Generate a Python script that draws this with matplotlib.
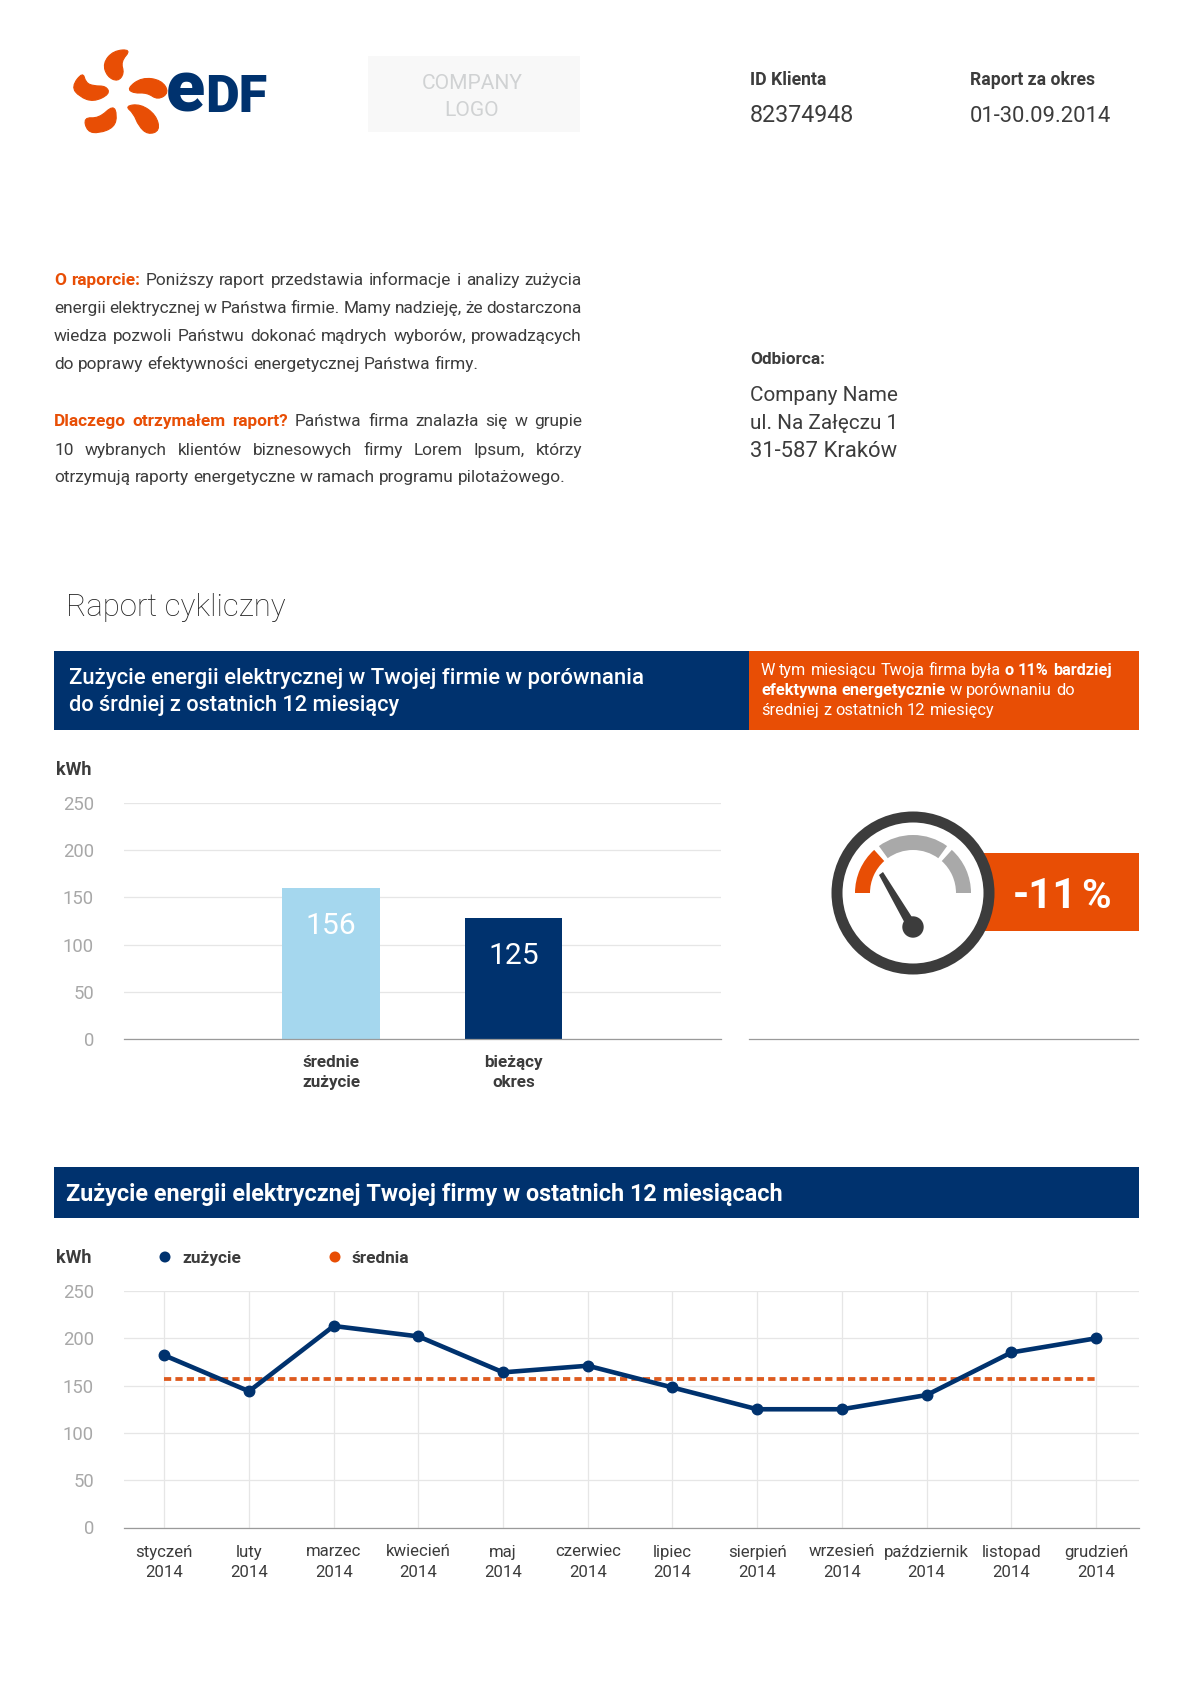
import matplotlib
matplotlib.use("Agg")
import matplotlib.pyplot as plt
from matplotlib.patches import Rectangle, PathPatch, Circle, Wedge, Polygon
from matplotlib.path import Path

W, H = 1200, 1695
FONT = "Roboto"
plt.rcParams["font.family"] = [FONT, "DejaVu Sans"]

NAVY = "#00326e"
ORANGE = "#e84e05"
LIGHT = "#a5d7ee"
DARK = "#3c3c3c"
GRAYTICK = "#a8a8a8"
GRID = "#e6e6e6"
AXLINE = "#9a9a9a"

# ---- data
bar_categories = ["średnie\nzużycie", "bieżący\nokres"]
bar_labels = ["156", "125"]
bar_heights = [160, 128]
bar_colors = [LIGHT, NAVY]
y_ticks = [0, 50, 100, 150, 200, 250]
months = ["styczeń", "luty", "marzec", "kwiecień", "maj", "czerwiec", "lipiec",
          "sierpień", "wrzesień", "październik", "listopad", "grudzień"]
year = "2014"
usage = [182, 144, 213, 202, 164, 171, 148, 125, 125, 140, 185, 200]
average = [156.5] * 12

fig = plt.figure(figsize=(W / 100, H / 100), dpi=100, facecolor="white")
ov = fig.add_axes([0, 0, 1, 1], zorder=0)
ov.set_xlim(0, W); ov.set_ylim(H, 0); ov.axis("off")
rend = fig.canvas.get_renderer()

def px(s):
    return s * 0.72

def T(x, y, s, size, color=DARK, weight="normal", ha="left", ax=None, **kw):
    return (ax or ov).text(x, y, s, fontsize=px(size), color=color, weight=weight,
                           ha=ha, va="baseline", **kw)

def width(s, size, weight):
    t = ov.text(0, 0, s, fontsize=px(size), weight=weight)
    w = t.get_window_extent(rend).width
    t.remove()
    return w

def runs(x, y, items, size, right=None, ax=None):
    """items: (text, color, weight) word runs; right: justify to this x."""
    words = []
    for txt, col, wt in items:
        for w in txt.split():
            words.append((w, col, wt))
    ws = [width(w, size, wt) for w, _, wt in words]
    space = width("a a", size, "normal") - width("aa", size, "normal")
    if right is not None and len(words) > 1:
        space = (right - x - sum(ws)) / (len(words) - 1)
    cx = x
    for (w, col, wt), wd in zip(words, ws):
        T(cx, y, w, size, col, wt, ax=ax)
        cx += wd + space

# ---- logo
def blob(pts, color):
    P = [(40 + a / 2.8, 30 + b / 3) for a, b in pts]
    n = len(P)
    mid = lambda p, q: ((p[0] + q[0]) / 2, (p[1] + q[1]) / 2)
    verts = [mid(P[-1], P[0])]
    codes = [Path.MOVETO]
    for i in range(n):
        verts += [P[i], mid(P[i], P[(i + 1) % n])]
        codes += [Path.CURVE3, Path.CURVE3]
    ov.add_patch(PathPatch(Path(verts, codes), fc=ORANGE, ec=ORANGE, lw=0.8))

blob([(256, 58), (205, 62), (176, 100), (188, 140), (218, 155), (236, 130), (226, 95)], ORANGE)
blob([(120, 125), (88, 170), (110, 200), (150, 216), (196, 192), (185, 168), (150, 168), (128, 158)], ORANGE)
blob([(244, 175), (285, 142), (340, 150), (362, 188), (330, 210), (300, 188), (262, 190)], ORANGE)
blob([(122, 262), (165, 265), (205, 225), (216, 255), (208, 292), (165, 310), (132, 305)], ORANGE)
blob([(238, 228), (282, 222), (325, 255), (336, 302), (302, 314), (276, 288), (262, 250)], ORANGE)
T(166, 112, "e", 72, NAVY, 900)
T(205, 112, "DF", 52, NAVY, 900)

# ---- header
ov.add_patch(Rectangle((368, 56), 212, 76, fc="#f8f8f8", ec="none"))
T(472, 89, "COMPANY", 21, "#d0d2d3", ha="center")
T(472, 116, "LOGO", 21, "#d0d2d3", ha="center")
T(750, 85, "ID Klienta", 17.6, DARK, "bold")
T(750, 122, "82374948", 23.2, DARK)
T(970, 85, "Raport za okres", 17.6, DARK, "bold")
T(970, 122, "01-30.09.2014", 22, DARK)

# ---- body text
L, R = 54, 582
BS = 17.3
runs(L, 285, [("O raporcie:", ORANGE, "bold"), ("Poniższy raport przedstawia informacje i analizy zużycia", DARK, "normal")], BS, R)
runs(L, 313, [("energii elektrycznej w Państwa firmie. Mamy nadzieję, że dostarczona", DARK, "normal")], BS, R)
runs(L, 341, [("wiedza pozwoli Państwu dokonać mądrych wyborów, prowadzących", DARK, "normal")], BS, R)
runs(L, 369, [("do poprawy efektywności energetycznej Państwa firmy.", DARK, "normal")], BS)
runs(L, 426, [("Dlaczego otrzymałem raport?", ORANGE, "bold"), ("Państwa firma znalazła się w grupie", DARK, "normal")], BS, R)
runs(L, 455, [("10 wybranych klientów biznesowych firmy Lorem Ipsum, którzy", DARK, "normal")], BS, R)
runs(L, 482, [("otrzymują raporty energetyczne w ramach programu pilotażowego.", DARK, "normal")], BS)

T(750, 364, "Odbiorca:", 17.3, DARK, "bold")
T(750, 401, "Company Name", 20.8, DARK)
T(750, 429, "ul. Na Załęczu 1", 20.8, DARK)
T(750, 457, "31-587 Kraków", 22, DARK)
T(66, 616, "Raport cykliczny", 31.2, "#222222", "light")

# ---- banners
ov.add_patch(Rectangle((54, 651), 695, 79, fc=NAVY, ec="none"))
ov.add_patch(Rectangle((749, 651), 390, 79, fc=ORANGE, ec="none"))
T(69, 684, "Zużycie energii elektrycznej w Twojej firmie w porównania", 22.1, "white", "medium")
T(69, 711, "do śrdniej z ostatnich 12 miesiący", 21.8, "white", "medium")
runs(761, 675, [("W tym miesiącu Twoja firma była", "white", "normal"), ("o 11% bardziej", "white", "bold")], 16.2)
runs(761, 695, [("efektywna energetycznie", "white", "bold"), ("w porównaniu do", "white", "normal")], 16.4)
runs(761, 715, [("średniej z ostatnich 12 miesięcy", "white", "normal")], 16.4)
ov.add_patch(Rectangle((54, 1167), 1085, 51, fc=NAVY, ec="none"))
T(66, 1201, "Zużycie energii elektrycznej Twojej firmy w ostatnich 12 miesiącach", 23.4, "white", "bold")

def chart_axes(x0, x1, ytop, ybot):
    ax = fig.add_axes([x0 / W, 1 - ybot / H, (x1 - x0) / W, (ybot - ytop) / H], zorder=2)
    ax.patch.set_alpha(0)
    ax.set_ylim(0, 250)
    ax.set_yticks(y_ticks)
    ax.grid(axis="y", color=GRID, lw=0.9)
    ax.set_axisbelow(True)
    for s in ("top", "left", "right"):
        ax.spines[s].set_visible(False)
    ax.spines["bottom"].set_color(AXLINE)
    ax.spines["bottom"].set_linewidth(0.9)
    ax.tick_params(axis="y", length=0, pad=px(30), labelsize=px(18.5), labelcolor=GRAYTICK)
    return ax

# ---- bar chart
T(56, 775, "kWh", 18, DARK, "bold")
ax1 = chart_axes(124, 721, 803, 1039)
xs = range(len(bar_heights))
ax1.bar(xs, bar_heights, width=0.534, color=bar_colors)
ax1.set_xlim(-1.133, 2.135)
ax1.set_xticks(list(xs))
ax1.set_xticklabels(bar_categories, fontsize=px(17), color=DARK, weight="bold", linespacing=1.38)
ax1.tick_params(axis="x", length=0, pad=px(16))
for i, (h, lab) in enumerate(zip(bar_heights, bar_labels)):
    ax1.annotate(lab, (i, h), xytext=(0, -px(46)), textcoords="offset points", ha="center",
                 va="baseline", color="white", fontsize=px(30), weight="normal")

# ---- gauge
cx, cy = 912, 893
ov.plot([749, 1138], [1039, 1039], color=AXLINE, lw=0.9)
ov.add_patch(Rectangle((950, 853), 189, 78, fc=ORANGE, ec="none"))
ov.add_patch(Circle((cx + 1, cy), 76, fc="white", ec="#3c3c3c", lw=px(11), zorder=3))
for a0, a1, c in [(-180, -132, ORANGE), (-126, -54, "#a9a9a9"), (-48, 0, "#a9a9a9")]:
    ov.add_patch(Wedge((cx + 1, cy), 58, a0, a1, width=15, fc=c, ec="none", zorder=4))
ov.add_patch(Polygon([(879, 875), (883, 872), (917, 925), (908, 929)], fc="#3c3c3c", ec="none", zorder=4))
ov.add_patch(Circle((cx + 1, 927), 10.7, fc="#3c3c3c", ec="none", zorder=4))
T(1013, 908, "-11", 42, "white", "bold", zorder=5)
T(1081, 908, "%", 40, "white", "bold", zorder=5)

# ---- line chart
ax2 = chart_axes(124, 1138.5, 1291, 1527.5)
xm = list(range(len(months)))
ax2.plot(xm, average, color="#dd5a1e", lw=px(3.8), ls=(0, (1.9, 1.1)), zorder=3, dash_capstyle="butt")
ax2.plot(xm, usage, color=NAVY, lw=px(4.6), marker="o", ms=px(10.5), zorder=4, clip_on=False)
ax2.set_xlim(-0.476, 11.502)
ax2.set_xticks(xm)
ax2.grid(axis="x", color=GRID, lw=0.9)
ax2.set_xticklabels([f"{m}\n{year}" for m in months], fontsize=px(16.8), color=DARK, linespacing=1.42)
ax2.tick_params(axis="x", length=0, pad=px(17))

T(56, 1263, "kWh", 18, DARK, "bold")
ov.add_patch(Circle((165, 1257), 5.5, fc=NAVY, ec="none"))
T(182, 1263, "zużycie", 17.3, DARK, "bold")
ov.add_patch(Circle((335, 1257), 5.5, fc=ORANGE, ec="none"))
T(352, 1263, "średnia", 17.3, DARK, "bold")

fig.savefig("out.png", dpi=100, facecolor="white")
